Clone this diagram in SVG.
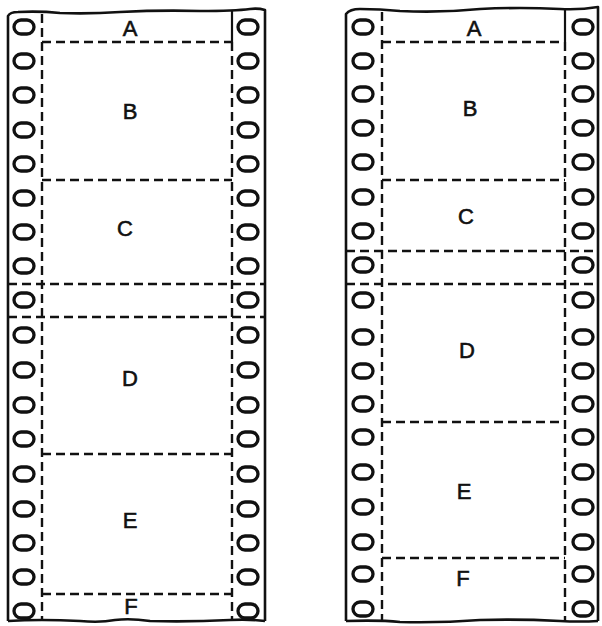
<svg xmlns="http://www.w3.org/2000/svg" width="602" height="626" viewBox="0 0 602 626">
<defs>
<style>
.edge{fill:none;stroke:#111;stroke-width:2.6;stroke-linejoin:round}
.dash{fill:none;stroke:#111;stroke-width:2.4;stroke-dasharray:9 5}
.solid{fill:none;stroke:#111;stroke-width:2.2}
.hole{fill:#fff;stroke:#111;stroke-width:3.3}
.lbl{font-family:"Liberation Sans",Arial,sans-serif;font-size:22px;fill:#111;stroke:#111;stroke-width:0.6;text-anchor:middle}
</style>
<rect id="h" x="-10" y="-7" width="20" height="14" rx="7" ry="7"/>
</defs>
<rect width="602" height="626" fill="#fff"/>

<g id="strip-left">
<path class="edge" d="M8,621 L8,16 Q10,12 18,12 Q40,11 60,13 Q90,14 120,12 Q160,10 200,11 Q235,11 250,9 Q258,8 265,10 L265,621"/>
<path class="edge" d="M8,621 Q40,619 80,621 Q100,623 115,620 Q130,618 150,621 Q190,622 230,620 Q250,619 265,621"/>
<path class="solid" d="M232,11 L232,42"/>
<g id="holes-left-1">
<use href="#h" class="hole" x="24" y="27"/><use href="#h" class="hole" x="24" y="61"/><use href="#h" class="hole" x="24" y="95"/><use href="#h" class="hole" x="24" y="130"/><use href="#h" class="hole" x="24" y="164"/><use href="#h" class="hole" x="24" y="198"/><use href="#h" class="hole" x="24" y="232"/><use href="#h" class="hole" x="24" y="266"/><use href="#h" class="hole" x="24" y="300"/><use href="#h" class="hole" x="24" y="335"/><use href="#h" class="hole" x="24" y="370"/><use href="#h" class="hole" x="24" y="405"/><use href="#h" class="hole" x="24" y="439"/><use href="#h" class="hole" x="24" y="474"/><use href="#h" class="hole" x="24" y="509"/><use href="#h" class="hole" x="24" y="543"/><use href="#h" class="hole" x="24" y="577"/><use href="#h" class="hole" x="24" y="611"/>
</g>
<g id="holes-left-2">
<use href="#h" class="hole" x="248" y="27"/><use href="#h" class="hole" x="248" y="61"/><use href="#h" class="hole" x="248" y="95"/><use href="#h" class="hole" x="248" y="130"/><use href="#h" class="hole" x="248" y="164"/><use href="#h" class="hole" x="248" y="198"/><use href="#h" class="hole" x="248" y="232"/><use href="#h" class="hole" x="248" y="266"/><use href="#h" class="hole" x="248" y="300"/><use href="#h" class="hole" x="248" y="335"/><use href="#h" class="hole" x="248" y="370"/><use href="#h" class="hole" x="248" y="405"/><use href="#h" class="hole" x="248" y="439"/><use href="#h" class="hole" x="248" y="474"/><use href="#h" class="hole" x="248" y="509"/><use href="#h" class="hole" x="248" y="543"/><use href="#h" class="hole" x="248" y="577"/><use href="#h" class="hole" x="248" y="611"/>
</g>
<path class="dash" d="M42,14 L42,621 M232,42 L232,621"/>
<g id="frames-left">
<path class="dash" d="M42,42 L232,42 M42,180 L232,180 M8,284 L265,284 M8,317 L265,317 M42,454 L232,454 M42,594 L232,594"/>
<text class="lbl" x="130" y="36">A</text>
<text class="lbl" x="130" y="119">B</text>
<text class="lbl" x="125" y="236">C</text>
<text class="lbl" x="130" y="386">D</text>
<text class="lbl" x="130" y="528">E</text>
<text class="lbl" x="131" y="614">F</text>
</g>
</g>

<g id="strip-right">
<path class="edge" d="M346,621 L346,14 Q350,9 360,9 Q380,9 400,11 Q440,13 480,9 Q520,7 560,9 Q580,10 598,7 L598,621"/>
<path class="edge" d="M346,621 Q380,620 400,622 Q440,623 480,620 Q520,619 560,621 Q580,622 598,621"/>
<path class="solid" d="M565,9 L565,42"/>
<g id="holes-right-1">
<use href="#h" class="hole" x="363" y="27"/><use href="#h" class="hole" x="363" y="61"/><use href="#h" class="hole" x="363" y="94"/><use href="#h" class="hole" x="363" y="128"/><use href="#h" class="hole" x="363" y="162"/><use href="#h" class="hole" x="363" y="197"/><use href="#h" class="hole" x="363" y="231"/><use href="#h" class="hole" x="363" y="265"/><use href="#h" class="hole" x="363" y="300"/><use href="#h" class="hole" x="363" y="337"/><use href="#h" class="hole" x="363" y="371"/><use href="#h" class="hole" x="363" y="404"/><use href="#h" class="hole" x="363" y="437"/><use href="#h" class="hole" x="363" y="472"/><use href="#h" class="hole" x="363" y="507"/><use href="#h" class="hole" x="363" y="542"/><use href="#h" class="hole" x="363" y="574"/><use href="#h" class="hole" x="363" y="609"/>
</g>
<g id="holes-right-2">
<use href="#h" class="hole" x="583" y="27"/><use href="#h" class="hole" x="583" y="61"/><use href="#h" class="hole" x="583" y="94"/><use href="#h" class="hole" x="583" y="128"/><use href="#h" class="hole" x="583" y="162"/><use href="#h" class="hole" x="583" y="197"/><use href="#h" class="hole" x="583" y="231"/><use href="#h" class="hole" x="583" y="265"/><use href="#h" class="hole" x="583" y="300"/><use href="#h" class="hole" x="583" y="337"/><use href="#h" class="hole" x="583" y="371"/><use href="#h" class="hole" x="583" y="404"/><use href="#h" class="hole" x="583" y="437"/><use href="#h" class="hole" x="583" y="472"/><use href="#h" class="hole" x="583" y="507"/><use href="#h" class="hole" x="583" y="542"/><use href="#h" class="hole" x="583" y="574"/><use href="#h" class="hole" x="583" y="609"/>
</g>
<path class="dash" d="M382,12 L382,621 M565,42 L565,621"/>
<g id="frames-right">
<path class="dash" d="M382,42 L565,42 M382,180 L565,180 M346,251 L598,251 M346,284 L598,284 M382,422 L565,422 M382,558 L565,558"/>
<text class="lbl" x="474" y="36">A</text>
<text class="lbl" x="470" y="116">B</text>
<text class="lbl" x="466" y="224">C</text>
<text class="lbl" x="467" y="358">D</text>
<text class="lbl" x="464" y="499">E</text>
<text class="lbl" x="463" y="586">F</text>
</g>
</g>
</svg>
